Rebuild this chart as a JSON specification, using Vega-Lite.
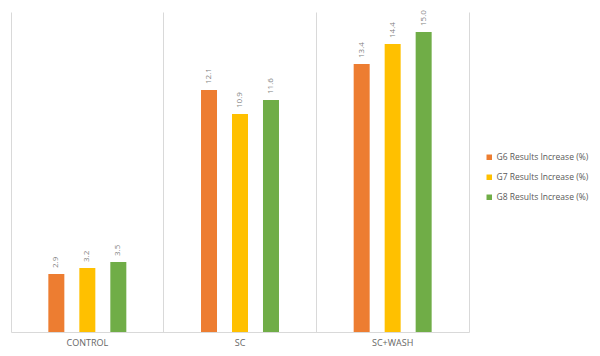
{
  "$schema": "https://vega.github.io/schema/vega-lite/v6.json",
  "width": 458,
  "height": 320,
  "autosize": "none",
  "padding": {"left": 11, "top": 12, "right": 131, "bottom": 24},
  "background": "white",
  "config": {"view": {"stroke": null}, "font": "Open Sans"},
  "data": {"values": [
    {"group": "CONTROL", "series": "G6 Results Increase (%)", "value": 2.9},
    {"group": "CONTROL", "series": "G7 Results Increase (%)", "value": 3.2},
    {"group": "CONTROL", "series": "G8 Results Increase (%)", "value": 3.5},
    {"group": "SC", "series": "G6 Results Increase (%)", "value": 12.1},
    {"group": "SC", "series": "G7 Results Increase (%)", "value": 10.9},
    {"group": "SC", "series": "G8 Results Increase (%)", "value": 11.6},
    {"group": "SC+WASH", "series": "G6 Results Increase (%)", "value": 13.4},
    {"group": "SC+WASH", "series": "G7 Results Increase (%)", "value": 14.4},
    {"group": "SC+WASH", "series": "G8 Results Increase (%)", "value": 15.0}
  ]},
  "encoding": {
    "x": {
      "field": "group", "type": "nominal", "sort": null,
      "scale": {"paddingInner": 0, "paddingOuter": 0},
      "axis": {
        "title": null, "labelAngle": 0, "labelFontSize": 9, "labelColor": "#666666",
        "labelPadding": 6, "ticks": false, "domainColor": "#D9D9D9", "domainWidth": 1,
        "grid": true, "bandPosition": 0, "gridColor": "#D9D9D9", "gridWidth": 1
      }
    },
    "xOffset": {
      "field": "series", "type": "nominal",
      "scale": {"paddingInner": 0.074, "paddingOuter": 1}
    },
    "y": {
      "field": "value", "type": "quantitative",
      "scale": {"domain": [0, 16], "nice": false},
      "axis": {"orient": "right", "title": null, "labels": false, "ticks": false, "grid": false, "domainColor": "#D9D9D9"}
    }
  },
  "layer": [
    {
      "mark": {"type": "bar", "width": 16},
      "encoding": {
        "color": {
          "field": "series", "type": "nominal",
          "scale": {"range": ["#ED7D31", "#FFC000", "#70AD47"]},
          "legend": {
            "title": null, "orient": "none", "legendX": 474, "legendY": 141,
            "symbolType": "square", "symbolSize": 30, "symbolStrokeWidth": 0,
            "labelFontSize": 8.5, "labelColor": "#595959", "rowPadding": 11,
            "labelOffset": 3
          }
        }
      }
    },
    {
      "mark": {"type": "text", "angle": -90, "align": "left", "baseline": "middle", "dx": 6, "fontSize": 8, "color": "#7F7F7F"},
      "encoding": {"text": {"field": "value", "type": "quantitative", "format": ".1f"}}
    }
  ]
}
